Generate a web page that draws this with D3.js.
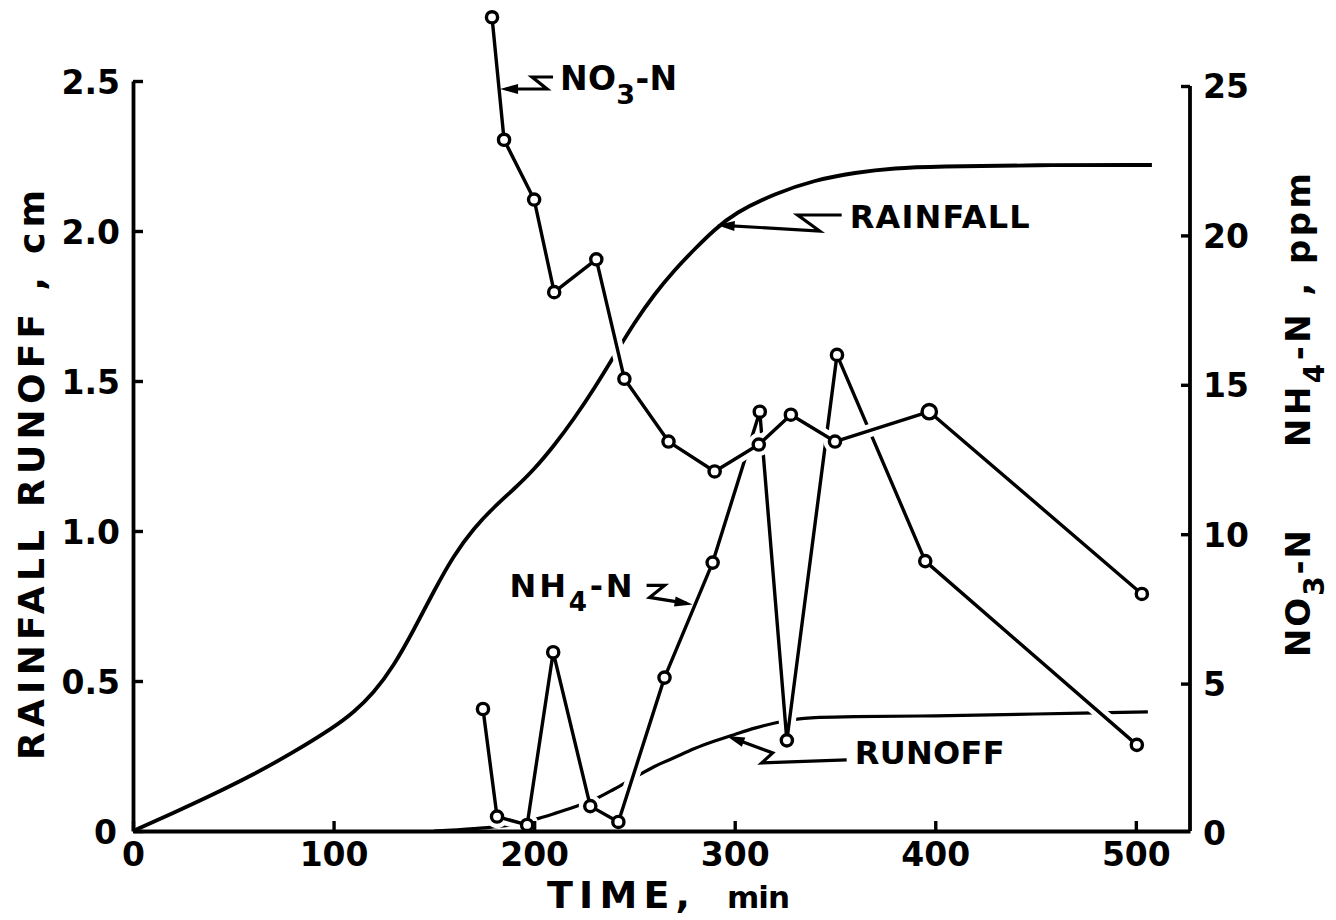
<!DOCTYPE html>
<html>
<head>
<meta charset="utf-8">
<script src="https://cdn.jsdelivr.net/npm/d3@7"></script>
<style>
  html, body { margin: 0; padding: 0; background: #fff; }
  svg { display: block; }
</style>
</head>
<body>
<svg id="chart" width="1336" height="920"></svg>
<script>
// Cumulative rainfall, cm, against time, min
const rainTime = [0, 20, 40, 60, 80, 100, 110, 120, 130, 140, 150, 160, 170, 180, 190, 200, 210, 220, 230, 240, 250, 260, 270, 280, 290, 300, 320, 340, 360, 380, 400, 450, 508];
const rainCm   = [0, 0.06, 0.122, 0.188, 0.262, 0.345, 0.395, 0.46, 0.55, 0.67, 0.80, 0.92, 1.01, 1.08, 1.14, 1.205, 1.285, 1.375, 1.475, 1.585, 1.695, 1.79, 1.87, 1.94, 2.005, 2.06, 2.125, 2.17, 2.195, 2.21, 2.215, 2.22, 2.22];

// Cumulative runoff, cm
const runoffTime = [150, 170, 190, 200, 210, 220, 230, 240, 250, 260, 270, 280, 290, 300, 310, 320, 330, 340, 360, 400, 450, 506];
const runoffCm   = [0, 0.008, 0.022, 0.038, 0.058, 0.08, 0.105, 0.14, 0.178, 0.215, 0.245, 0.275, 0.30, 0.322, 0.343, 0.36, 0.372, 0.378, 0.381, 0.384, 0.39, 0.397];

// Nitrate-N in runoff, ppm
const no3Time = [179, 185, 200, 210, 231, 245, 267, 290, 312, 328, 350, 397, 503];
const no3Ppm  = [27.3, 23.2, 21.2, 18.1, 19.2, 15.2, 13.1, 12.1, 13.0, 14.0, 13.1, 14.1, 8.0];

// Ammonium-N in runoff, ppm
const nh4Time = [174.5, 181.5, 196.5, 209.5, 228, 242, 265, 289, 312.5, 326, 351, 395, 500.5];
const nh4Ppm  = [4.15, 0.55, 0.27, 6.05, 0.9, 0.37, 5.2, 9.05, 14.1, 3.1, 16.0, 9.1, 2.95];

// Axis ticks
const timeTicks = [0, 100, 200, 300, 400, 500];
const cmTicks = [0, 0.5, 1.0, 1.5, 2.0, 2.5];
const cmTickLabels = ["0", "0.5", "1.0", "1.5", "2.0", "2.5"];
const ppmTicks = [0, 5, 10, 15, 20, 25];

const FONT = "'DejaVu Sans', sans-serif";
const INK = "#000";
const svg = d3.select("#chart");

const x = d3.scaleLinear().domain([0, 527]).range([133, 1190]);
const yCm = d3.scaleLinear().domain([0, 2.5]).range([831, 81]);
const yPpm = d3.scaleLinear().domain([0, 25]).range([833, 86]);

const rain = d3.zip(rainTime, rainCm);
const runoff = d3.zip(runoffTime, runoffCm);
const no3 = d3.zip(no3Time, no3Ppm);
const nh4 = d3.zip(nh4Time, nh4Ppm);

const rainLine = d3.line().x(d => x(d[0])).y(d => yCm(d[1])).curve(d3.curveBasis);
const runoffLine = d3.line().x(d => x(d[0])).y(d => yCm(d[1])).curve(d3.curveCatmullRom.alpha(0.5));
const straightPpm = d3.line().x(d => x(d[0])).y(d => yPpm(d[1]));

// Runoff curve (bottom layer)
svg.append("path").datum(runoff)
  .attr("d", runoffLine).attr("fill", "none")
  .attr("stroke", INK).attr("stroke-width", 3.2).attr("stroke-linecap", "butt");

// Concentration series: a white halo first, so crossed lines show a break
function halo(data) {
  const g = svg.append("g");
  g.append("path").datum(data).attr("d", straightPpm)
    .attr("fill", "none").attr("stroke", "#fff").attr("stroke-width", 13)
    .attr("stroke-linejoin", "round");
  g.selectAll("circle.halo").data(data).join("circle").attr("class", "halo")
    .attr("cx", d => x(d[0])).attr("cy", d => yPpm(d[1]))
    .attr("r", 11.5).attr("fill", "#fff");
  return g;
}
function ink(g, data, emphasis) {
  g.append("path").datum(data).attr("d", straightPpm)
    .attr("fill", "none").attr("stroke", INK).attr("stroke-width", 3.4)
    .attr("stroke-linejoin", "round");
  g.selectAll("circle.mark").data(data).join("circle").attr("class", "mark")
    .attr("cx", d => x(d[0])).attr("cy", d => yPpm(d[1]))
    .attr("r", (d, i) => i === emphasis ? 7.2 : 5.6)
    .attr("fill", "#fff").attr("stroke", INK).attr("stroke-width", 3.4);
}

const gNH4 = halo(nh4);
ink(gNH4, nh4, -1);

// Rainfall curve
svg.append("path").datum(rain)
  .attr("d", rainLine).attr("fill", "none")
  .attr("stroke", INK).attr("stroke-width", 3.8);

const gNO3 = halo(no3);
ink(gNO3, no3, 11);

// Axes
function styleAxis(g, dy) {
  g.attr("font-family", FONT).attr("font-size", 33).attr("font-weight", "bold");
  g.select(".domain").attr("stroke", INK).attr("stroke-width", 3.8);
  g.selectAll(".tick line").attr("stroke", INK).attr("stroke-width", 3.4);
  g.selectAll(".tick text").attr("fill", INK);
  if (dy) g.selectAll(".tick text").attr("dy", dy);
}

const axBottom = svg.append("g").attr("transform", "translate(0,831)")
  .call(d3.axisBottom(x).tickValues(timeTicks).tickFormat(d3.format("d"))
    .tickSize(-10).tickSizeOuter(0).tickPadding(12));
styleAxis(axBottom);

const axLeft = svg.append("g").attr("transform", "translate(133,0)")
  .call(d3.axisLeft(yCm).tickValues(cmTicks).tickFormat((d, i) => cmTickLabels[i])
    .tickSize(-10).tickSizeOuter(0).tickPadding(13));
styleAxis(axLeft, "0.38em");
axLeft.selectAll(".tick").filter(d => d === 0).select("text").attr("x", -16);

const axRight = svg.append("g").attr("transform", "translate(1190,0)")
  .call(d3.axisRight(yPpm).tickValues(ppmTicks).tickFormat(d3.format("d"))
    .tickSize(-9).tickSizeOuter(0).tickPadding(13));
styleAxis(axRight, "0.36em");
axRight.select(".domain").attr("d", `M0,${yCm(0)}V${yPpm(25)}`);
axRight.selectAll(".tick").filter(d => d === 0).select("line").remove();

// Text helpers
function fit(t, target) {
  const node = t.node();
  const n = node.getNumberOfChars();
  const len = node.getComputedTextLength();
  if (n > 1) t.attr("letter-spacing", (target - len) / (n - 1));
}
function chem(t, parts, fs) {
  let prevSub = false;
  parts.forEach(([s, sub]) => {
    const ts = t.append("tspan").text(s);
    if (sub) ts.attr("font-size", fs * 0.82).attr("dy", fs * 0.42);
    else if (prevSub) ts.attr("dy", -fs * 0.42);
    prevSub = sub;
  });
}
function label(px, py, fs) {
  return svg.append("text").attr("x", px).attr("y", py)
    .attr("font-family", FONT).attr("font-weight", "bold")
    .attr("font-size", fs).attr("fill", INK);
}

// Axis titles
const tTime = label(547, 908, 38).text("TIME,");
fit(tTime, 143);
const tMin = label(727, 908, 31).text("min");
fit(tMin, 63);

const tLeft = svg.append("text").attr("transform", "translate(44,760) rotate(-90)")
  .attr("font-family", FONT).attr("font-weight", "bold").attr("font-size", 36)
  .attr("fill", INK).text("RAINFALL RUNOFF , cm");
fit(tLeft, 570);

const tNH4Title = svg.append("text").attr("transform", "translate(1310,447) rotate(-90)")
  .attr("font-family", FONT).attr("font-weight", "bold").attr("font-size", 34).attr("fill", INK);
chem(tNH4Title, [["NH", false], ["4", true], ["-N , ppm", false]], 34);
fit(tNH4Title, 274);

const tNO3Title = svg.append("text").attr("transform", "translate(1310,657) rotate(-90)")
  .attr("font-family", FONT).attr("font-weight", "bold").attr("font-size", 34).attr("fill", INK);
chem(tNO3Title, [["NO", false], ["3", true], ["-N", false]], 34);
fit(tNO3Title, 127);

// Callouts: a broken leader ending in an arrowhead on the curve
function callout(tx, ty, offsets) {
  const pts = offsets.map(([dx, dy]) => [tx + dx, ty + dy]);
  pts.push([tx, ty]);
  const from = pts[pts.length - 2];
  const ux = tx - from[0], uy = ty - from[1];
  const L = Math.hypot(ux, uy);
  const ex = ux / L, ey = uy / L;
  const len = 18, half = 5;
  const bx = tx - ex * len, by = ty - ey * len;
  pts[pts.length - 1] = [tx - ex * 6, ty - ey * 6];
  svg.append("path").attr("d", d3.line()(pts))
    .attr("fill", "none").attr("stroke", INK).attr("stroke-width", 3.2)
    .attr("stroke-linejoin", "miter");
  svg.append("path")
    .attr("d", `M${tx},${ty}L${bx - ey * half},${by + ex * half}L${bx + ey * half},${by - ex * half}Z`)
    .attr("fill", INK);
}

// NO3-N
{
  const tx = x(183), ty = yPpm(24.9);
  callout(tx, ty, [[53, -12], [32, -12], [47, 0]]);
  const t = label(tx + 60, ty + 1, 33);
  chem(t, [["NO", false], ["3", true], ["-N", false]], 33);
  fit(t, 117);
}
// RAINFALL
{
  const tx = x(291), ty = yCm(2.02);
  callout(tx, ty, [[125, -10], [81, -10], [103, 6]]);
  const t = label(tx + 133, ty + 3, 32).text("RAINFALL");
  fit(t, 180);
}
// RUNOFF
{
  const tx = x(296), ty = yCm(0.317);
  callout(tx, ty, [[120, 24], [35, 27], [46, 17]]);
  const t = label(tx + 128, ty + 28, 32).text("RUNOFF");
  fit(t, 150);
}
// NH4-N
{
  const tx = x(279), ty = yPpm(7.65);
  callout(tx, ty, [[-46, -19], [-28, -19], [-43, -7]]);
  const t = label(tx - 183, ty - 7, 32);
  chem(t, [["NH", false], ["4", true], ["-N", false]], 32);
  fit(t, 123);
}
</script>
</body>
</html>
